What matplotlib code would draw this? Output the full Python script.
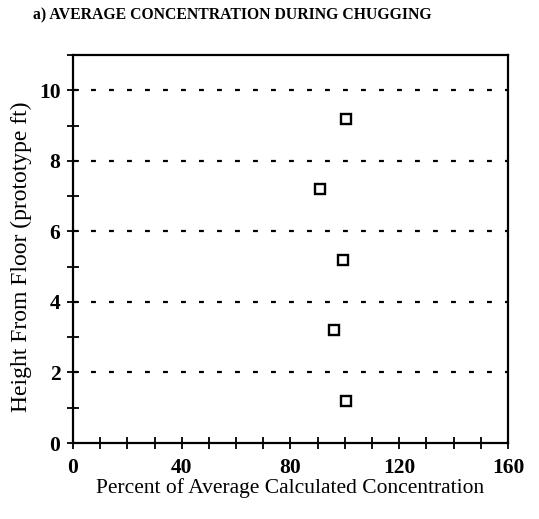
import matplotlib
matplotlib.use('Agg')
import matplotlib.pyplot as plt
from matplotlib.ticker import MultipleLocator

# 讀圖估計的數據
percent = [100.5, 90.8, 99.3, 96.0, 100.5]
height = [9.2, 7.2, 5.2, 3.2, 1.2]
x_ticks = [0, 40, 80, 120, 160]
y_ticks = [0, 2, 4, 6, 8, 10]
grid_levels = [2, 4, 6, 8, 10]

plt.rcParams['font.family'] = ['Liberation Serif', 'DejaVu Serif']

fig = plt.figure(figsize=(5.39, 5.19), dpi=100)
ax = fig.add_axes([0.1354, 0.1464, 0.8071, 0.7476])

for g in grid_levels:
    ax.axhline(g, color='black', lw=1.6, linestyle=(0, (2.2, 5.9)), zorder=1)

ax.plot(percent, height, linestyle='none', marker='s', markersize=7,
        markerfacecolor='white', markeredgecolor='black', markeredgewidth=1.7, zorder=3)

ax.set_xlim(0, 160)
ax.set_ylim(0, 11)
ax.set_xticks(x_ticks)
ax.set_yticks(y_ticks)
ax.xaxis.set_minor_locator(MultipleLocator(10))
ax.yaxis.set_minor_locator(MultipleLocator(1))
ax.tick_params(which='both', direction='inout', length=8, width=1.3, color='black')
ax.tick_params(which='major', labelsize=15.5)
ax.tick_params(axis='x', which='major', pad=7)
ax.tick_params(axis='y', which='major', pad=5)
for lab in ax.get_xticklabels() + ax.get_yticklabels():
    lab.set_fontweight('bold')
for s in ax.spines.values():
    s.set_linewidth(1.6)

ax.set_xlabel('Percent of Average Calculated Concentration', fontsize=15.5, labelpad=0)
ax.set_ylabel('Height From Floor (prototype ft)', fontsize=17)
ax.yaxis.set_label_coords(-0.094, 0.48)

fig.text(0.061, 0.985, 'a) AVERAGE CONCENTRATION DURING CHUGGING',
         fontsize=11.3, fontweight='bold', ha='left', va='top')

fig.savefig('out.png', dpi=100)
